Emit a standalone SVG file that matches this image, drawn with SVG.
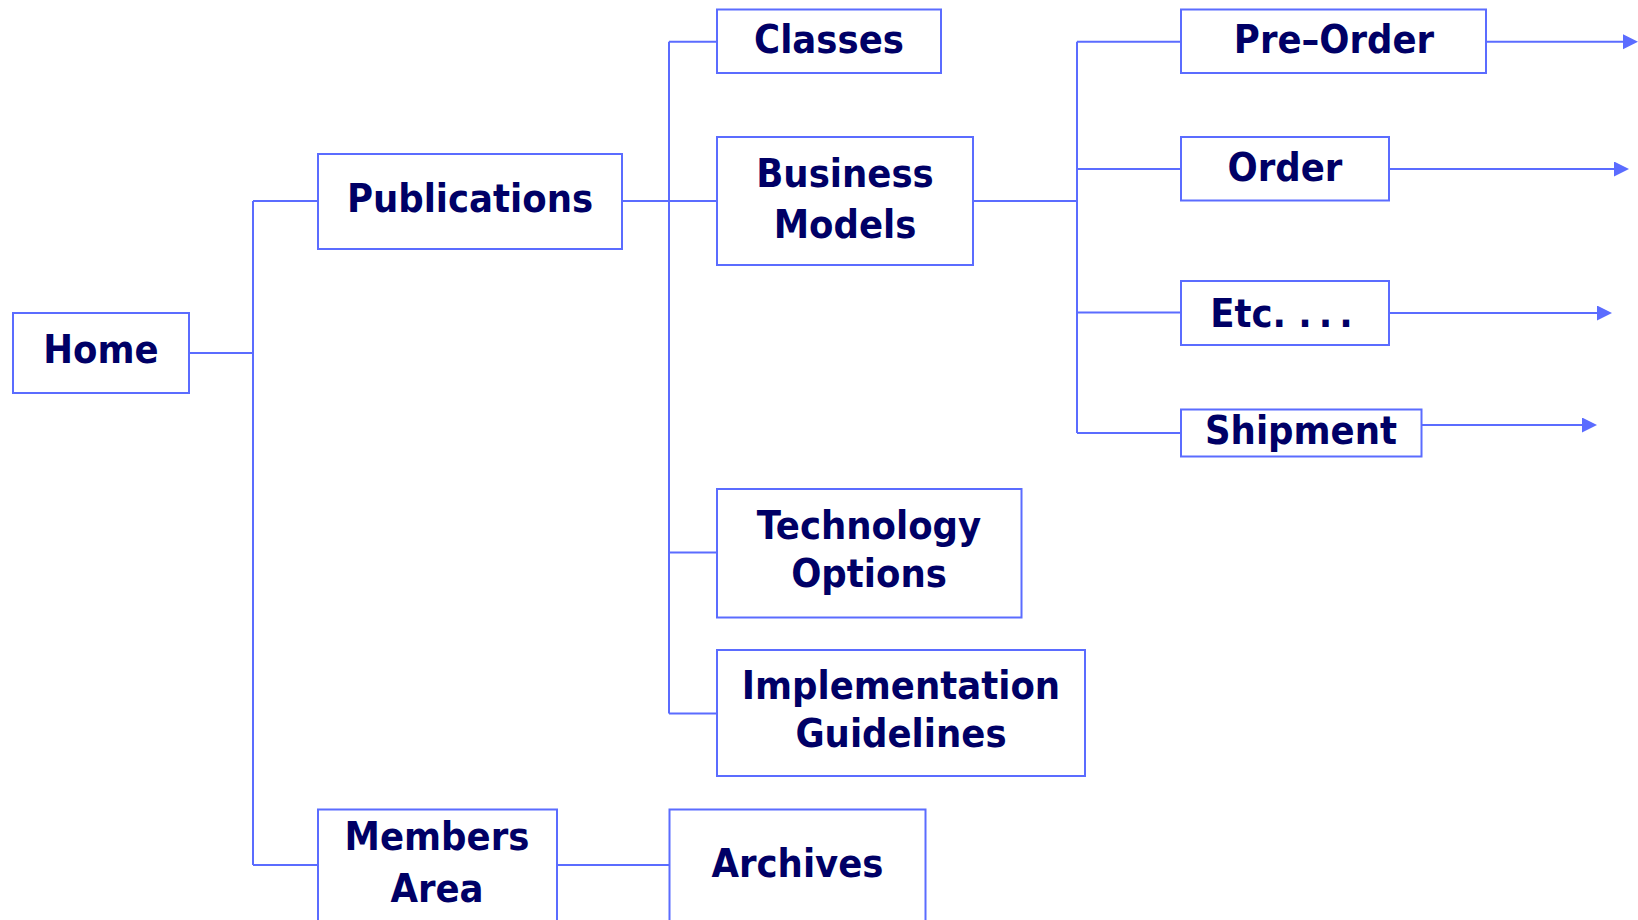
<svg xmlns="http://www.w3.org/2000/svg" width="1638" height="920" viewBox="0 0 1638 920">
<style>
.box{fill:#ffffff;stroke:#5b6cff;stroke-width:2}
.ln{fill:none;stroke:#5b6cff;stroke-width:2}
.t{font-family:"DejaVu Sans Condensed","DejaVu Sans",sans-serif;font-stretch:condensed;font-weight:bold;font-size:39.5px;fill:#000066;text-anchor:middle}
</style>
<defs>
<marker id="ah" markerUnits="userSpaceOnUse" markerWidth="16" markerHeight="16" refX="5" refY="7.5" orient="auto">
<path d="M0,0 L15,7.5 L0,15 Z" fill="#5b6cff"/>
</marker>
</defs>
<rect width="1638" height="920" fill="#ffffff"/>
<g id="connectors">
<path class="ln" d="M189 353 H253 M253 201 V865 M253 201 H318 M253 865 H318"/>
<path class="ln" d="M622 201 H669 M669 41.7 V713.5 M669 41.7 H717 M669 201 H717 M669 552.6 H717 M669 713.5 H717"/>
<path class="ln" d="M557 865 H669.5"/>
<path class="ln" d="M973 201 H1077 M1077 41.7 V433 M1077 41.7 H1181 M1077 169 H1181 M1077 312.5 H1181 M1077 433 H1181"/>
<path class="ln" d="M1486 41.7 H1628" marker-end="url(#ah)"/>
<path class="ln" d="M1389 169 H1619" marker-end="url(#ah)"/>
<path class="ln" d="M1389 313 H1602" marker-end="url(#ah)"/>
<path class="ln" d="M1421.5 425 H1587" marker-end="url(#ah)"/>
</g>
<g id="home"><rect class="box" x="13" y="313" width="176" height="80"/><text class="t" x="101" y="363">Home</text></g>
<g id="publications"><rect class="box" x="318" y="154" width="304" height="95"/><text class="t" x="470" y="212">Publications</text></g>
<g id="members-area"><rect class="box" x="318" y="809.5" width="239" height="130"/><text class="t" x="437" y="850">Members</text><text class="t" x="437" y="901.5">Area</text></g>
<g id="classes"><rect class="box" x="717" y="9.5" width="224" height="63.5"/><text class="t" x="829" y="53">Classes</text></g>
<g id="business-models"><rect class="box" x="717" y="137" width="256" height="128"/><text class="t" x="845" y="186.5">Business</text><text class="t" x="845" y="237.5">Models</text></g>
<g id="technology-options"><rect class="box" x="717" y="489" width="304.5" height="128.5"/><text class="t" x="869" y="538.5">Technology</text><text class="t" x="869" y="586.5">Options</text></g>
<g id="implementation-guidelines"><rect class="box" x="717" y="650" width="368" height="126"/><text class="t" x="901" y="698.5">Implementation</text><text class="t" x="901" y="746.5">Guidelines</text></g>
<g id="archives"><rect class="box" x="669.5" y="809.5" width="256" height="130"/><text class="t" x="797.5" y="877">Archives</text></g>
<g id="pre-order"><rect class="box" x="1181" y="9.5" width="305" height="63.5"/><text class="t" x="1334" y="52.5">Pre–Order</text></g>
<g id="order"><rect class="box" x="1181" y="137" width="208" height="63.5"/><text class="t" x="1285" y="180.5">Order</text></g>
<g id="etc"><rect class="box" x="1181" y="281" width="208" height="64"/><text class="t" x="1285" y="327">Etc. <tspan letter-spacing="7">...</tspan></text></g>
<g id="shipment"><rect class="box" x="1181" y="409.5" width="240.5" height="47"/><text class="t" x="1301" y="444">Shipment</text></g>
</svg>
